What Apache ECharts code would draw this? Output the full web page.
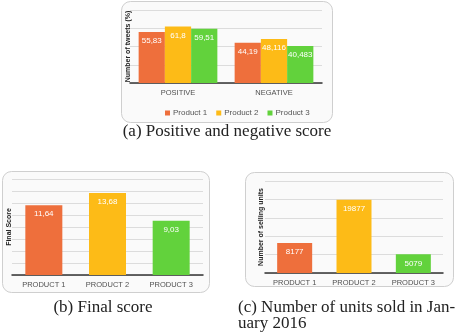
<!DOCTYPE html>
<html>
<head>
<meta charset="utf-8">
<script src="https://cdn.jsdelivr.net/npm/echarts@6/dist/echarts.min.js"></script>
<style>
html,body{margin:0;padding:0;background:#fff;}
#main{width:461px;height:335px;}
</style>
</head>
<body>
<div id="main"></div>
<script>
// Panel (a): positive and negative score
var categoriesA = ['POSITIVE', 'NEGATIVE'];
var seriesNamesA = ['Product 1', 'Product 2', 'Product 3'];
var product1A = [55.83, 44.19];
var product2A = [61.8, 48.116];
var product3A = [59.51, 40.483];

// Panel (b): final score
var categoriesB = ['PRODUCT 1', 'PRODUCT 2', 'PRODUCT 3'];
var finalScoreB = [11.64, 13.68, 9.03];

// Panel (c): units sold in January 2016
var categoriesC = ['PRODUCT 1', 'PRODUCT 2', 'PRODUCT 3'];
var unitsSoldC = [8177, 19877, 5079];

var captionA = '(a) Positive and negative score';
var captionB = '(b) Final score';
var captionC1 = '(c) Number of units sold in Jan-';
var captionC2 = 'uary 2016';

var colors = ['#EE6F3C', '#FDBB17', '#62D23C'];
var sans = 'Liberation Sans';
var serif = 'Liberation Serif';

function comma(p) { return String(p.value).replace('.', ','); }

var labelStyle = {
  show: true, position: 'insideTop', distance: 5,
  color: '#ffffff', fontSize: 8, fontFamily: sans, formatter: comma
};

function xAx(gi, cats) {
  return {
    type: 'category', gridIndex: gi, data: cats,
    axisLine: {lineStyle: {color: '#333', width: 1.5}},
    axisTick: {show: false},
    axisLabel: {color: '#505050', fontSize: 7.5, fontFamily: sans, margin: 6}
  };
}
function yAx(gi, max, interval, name, gap) {
  return {
    type: 'value', gridIndex: gi, min: 0, max: max, interval: interval,
    name: name, nameLocation: 'middle', nameGap: gap, nameRotate: 90,
    nameTextStyle: {fontSize: 7, fontWeight: 'bold', color: '#222', fontFamily: sans},
    axisLine: {show: false}, axisTick: {show: false}, axisLabel: {show: false},
    splitLine: {lineStyle: {color: '#dcdcdc', width: 1}}
  };
}

var capFont = '17px "' + serif + '"';

var chart = echarts.init(document.getElementById('main'), null, {renderer: 'canvas'});
chart.setOption({
  animation: false,
  backgroundColor: '#ffffff',
  color: colors,
  grid: [
    {left: 130, right: 139, top: 10, bottom: 252},
    {left: 12, right: 258, top: 179, bottom: 60},
    {left: 265, right: 18, top: 181, bottom: 62}
  ],
  legend: {
    data: seriesNamesA, left: 160, top: 104, itemWidth: 5, itemHeight: 5, itemGap: 9,
    icon: 'rect', textStyle: {fontSize: 8, color: '#555', fontFamily: sans, padding: [0,0,0,-2]}
  },
  xAxis: [xAx(0, categoriesA), xAx(1, categoriesB), xAx(2, categoriesC)],
  yAxis: [
    yAx(0, 80, 20, 'Number of tweets (%)', -2),
    yAx(1, 16, 2, 'Final Score', -1),
    yAx(2, 25000, 5000, 'Number of selling units', 0)
  ],
  series: [
    {name: seriesNamesA[0], type: 'bar', xAxisIndex: 0, yAxisIndex: 0, data: product1A, barGap: '0%', barCategoryGap: '18%', label: labelStyle},
    {name: seriesNamesA[1], type: 'bar', xAxisIndex: 0, yAxisIndex: 0, data: product2A, barGap: '0%', barCategoryGap: '18%', label: labelStyle},
    {name: seriesNamesA[2], type: 'bar', xAxisIndex: 0, yAxisIndex: 0, data: product3A, barGap: '0%', barCategoryGap: '18%', label: labelStyle},
    {type: 'bar', xAxisIndex: 1, yAxisIndex: 1, barWidth: 37, label: labelStyle,
      data: finalScoreB.map(function (v, i) { return {value: v, itemStyle: {color: colors[i]}}; })},
    {type: 'bar', xAxisIndex: 2, yAxisIndex: 2, barWidth: 35, label: labelStyle,
      data: unitsSoldC.map(function (v, i) { return {value: v, itemStyle: {color: colors[i]}}; })}
  ],
  graphic: [
    {type: 'rect', z: -10, shape: {x: 121.5, y: 1.5, width: 211, height: 121, r: 9},
      style: {fill: '#fafafa', stroke: '#cfcfcf', lineWidth: 1}},
    {type: 'rect', z: -10, shape: {x: 2.5, y: 171.5, width: 207, height: 121, r: 9},
      style: {fill: '#fafafa', stroke: '#cfcfcf', lineWidth: 1}},
    {type: 'rect', z: -10, shape: {x: 245.5, y: 172.5, width: 208, height: 114, r: 9},
      style: {fill: '#fafafa', stroke: '#cfcfcf', lineWidth: 1}},
    {type: 'text', x: 227, y: 123, style: {text: captionA, font: capFont, fill: '#222', align: 'center'}},
    {type: 'text', x: 103, y: 299, style: {text: captionB, font: capFont, fill: '#222', align: 'center'}},
    {type: 'text', x: 238, y: 299, style: {text: captionC1, font: capFont, fill: '#222'}},
    {type: 'text', x: 238, y: 315, style: {text: captionC2, font: capFont, fill: '#222'}}
  ]
});
</script>
</body>
</html>
